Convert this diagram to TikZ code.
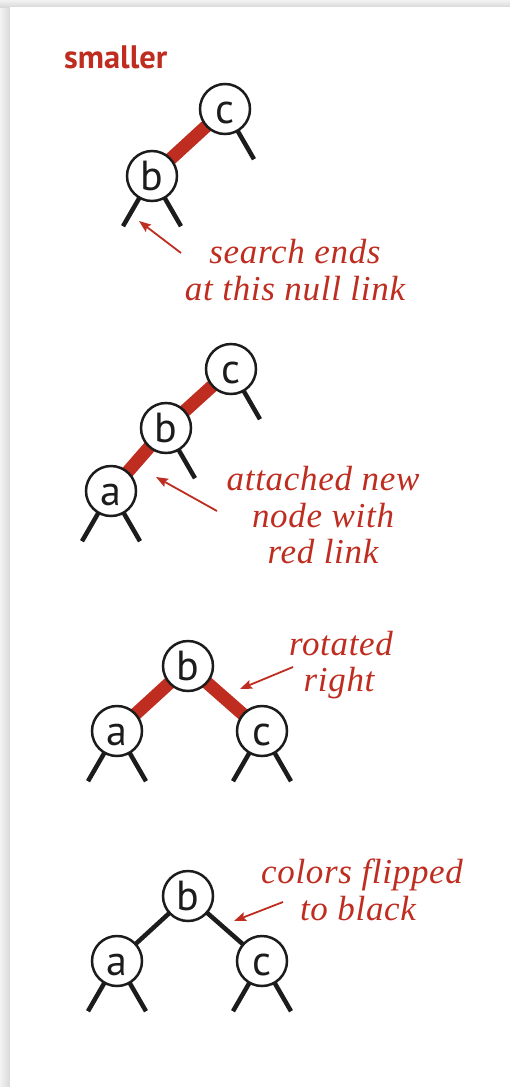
\documentclass[tikz,border=0pt]{standalone}
\usepackage{fontspec}
\usetikzlibrary{arrows.meta,backgrounds,calc}
\definecolor{sred}{RGB}{190,45,32}
\definecolor{ink}{RGB}{28,28,28}
\newfontfamily\nodefont{PT Sans}
\newfontfamily\headfont{PT Sans Bold}
\newfontfamily\notefont{Liberation Serif}[LetterSpace=2]
\tikzset{
  tnode/.style={circle, draw=ink, line width=2.5pt, fill=white, minimum size=50pt,
    inner sep=0pt, text height=28pt, text depth=0pt, text=ink,
    font=\nodefont\fontsize{42}{42}\selectfont},
  redlink/.style={draw=sred, line width=13pt},
  blacklink/.style={draw=ink, line width=4.5pt},
  nulllink/.style={draw=ink, line width=4.5pt},
  note/.style={text=sred, anchor=base, inner sep=0pt,
    font=\notefont\itshape\fontsize{35}{37}\selectfont},
  pointer/.style={draw=sred, line width=1.8pt, -{Stealth[length=12pt,width=9pt,inset=2pt]}},
}
\begin{document}
\begin{tikzpicture}[x=1pt,y=-1pt]
\useasboundingbox (0,0) rectangle (510,1087);
% title
\node[text=sred, anchor=base west, inner sep=0pt, font=\headfont\fontsize{32.5}{32}\selectfont] (title) at (64,68) {smaller};
% diagram 1
\node[tnode] (c1) at (225,109) {c};
\node[tnode] (b1) at (152,176) {b};
\coordinate (c1r) at ($(c1)+(60:58)$);
\coordinate (b1l) at ($(b1)+(120:58)$);
\coordinate (b1r) at ($(b1)+(60:58)$);
\node[note] (t1a) at (295,263) {search ends};
\node[note] (t1b) at (295,300) {at this null link};
\coordinate (p1a) at (181,253);
\coordinate (p1b) at (139,221);
\draw[pointer] (p1a) -- (p1b);
% diagram 2
\node[tnode] (c2) at (231,369) {c};
\node[tnode] (b2) at (166,428) {b};
\node[tnode] (a2) at (111,491) {a};
\coordinate (c2r) at ($(c2)+(60:58)$);
\coordinate (b2r) at ($(b2)+(60:58)$);
\coordinate (a2l) at ($(a2)+(120:58)$);
\coordinate (a2r) at ($(a2)+(60:58)$);
\node[note] (t2a) at (323,490) {attached new};
\node[note] (t2b) at (323,527) {node with};
\node[note] (t2c) at (323,563) {red link};
\coordinate (p2a) at (217,511);
\coordinate (p2b) at (156,477);
\draw[pointer] (p2a) -- (p2b);
% diagram 3
\node[tnode] (b3) at (188,666) {b};
\node[tnode] (a3) at (117,731) {a};
\node[tnode] (c3) at (262,731) {c};
\coordinate (a3l) at ($(a3)+(120:58)$);
\coordinate (a3r) at ($(a3)+(60:58)$);
\coordinate (c3l) at ($(c3)+(120:58)$);
\coordinate (c3r) at ($(c3)+(60:58)$);
\node[note] (t3a) at (341,655) {rotated};
\node[note] (t3b) at (339,691) {right};
\coordinate (p3a) at (293,667);
\coordinate (p3b) at (240,689);
\draw[pointer] (p3a) -- (p3b);
% diagram 4
\node[tnode] (b4) at (188,896) {b};
\node[tnode] (a4) at (117,961) {a};
\node[tnode] (c4) at (262,961) {c};
\coordinate (a4l) at ($(a4)+(120:58)$);
\coordinate (a4r) at ($(a4)+(60:58)$);
\coordinate (c4l) at ($(c4)+(120:58)$);
\coordinate (c4r) at ($(c4)+(60:58)$);
\node[note] (t4a) at (362,883) {colors flipped};
\node[note] (t4b) at (358,920) {to black};
\coordinate (p4a) at (283,902);
\coordinate (p4b) at (234,921);
\draw[pointer] (p4a) -- (p4b);
\begin{pgfonlayer}{background}
  \fill[gray!25] (0,0) rectangle (510,1087);
  \shade[left color=gray!10, right color=gray!30] (0,0) rectangle (10,1087);
  \shade[top color=gray!10, bottom color=gray!30] (0,0) rectangle (510,7);
  \fill[white] (10,7) rectangle (510,1087);
  % links
  \draw[redlink] (b1.center) -- (c1.center);
  \draw[nulllink] (c1.center) -- (c1r);
  \draw[nulllink] (b1.center) -- (b1l);
  \draw[nulllink] (b1.center) -- (b1r);
  \draw[redlink] (a2.center) -- (b2.center) -- (c2.center);
  \draw[nulllink] (c2.center) -- (c2r);
  \draw[nulllink] (b2.center) -- (b2r);
  \draw[nulllink] (a2.center) -- (a2l);
  \draw[nulllink] (a2.center) -- (a2r);
  \draw[redlink] (a3.center) -- (b3.center) -- (c3.center);
  \draw[nulllink] (a3.center) -- (a3l);
  \draw[nulllink] (a3.center) -- (a3r);
  \draw[nulllink] (c3.center) -- (c3l);
  \draw[nulllink] (c3.center) -- (c3r);
  \draw[blacklink] (a4.center) -- (b4.center) -- (c4.center);
  \draw[nulllink] (a4.center) -- (a4l);
  \draw[nulllink] (a4.center) -- (a4r);
  \draw[nulllink] (c4.center) -- (c4l);
  \draw[nulllink] (c4.center) -- (c4r);
\end{pgfonlayer}
\end{tikzpicture}
\end{document}
